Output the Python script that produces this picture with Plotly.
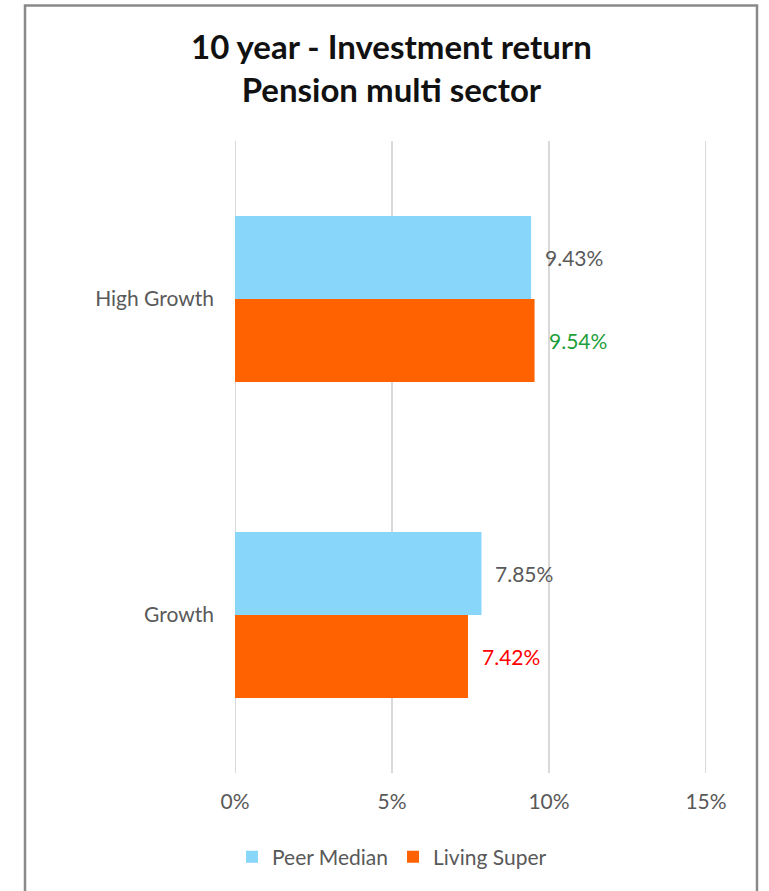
import plotly.graph_objects as go

categories = ["High Growth", "Growth"]
peer_median = [9.43, 7.85]
living_super = [9.54, 7.42]
living_label_colors = ["#1e9e3a", "#ff0000"]
x_ticks = [0, 5, 10, 15]
x_tick_labels = ["0%", "5%", "10%", "15%"]

PEER_COLOR = "#89d6fb"
LS_COLOR = "#ff6200"
TEXT_GRAY = "#595959"
FONT = "Lato"
FS = 21

fig = go.Figure()
fig.add_trace(go.Bar(
    y=categories, x=peer_median, orientation="h", name="Peer Median",
    marker=dict(color=PEER_COLOR, line=dict(width=0)), hoverinfo="x+name",
))
fig.add_trace(go.Bar(
    y=categories, x=living_super, orientation="h", name="Living Super",
    marker=dict(color=LS_COLOR, line=dict(width=0)), hoverinfo="x+name",
))

annotations = []
for cat, v in zip(categories, peer_median):
    annotations.append(dict(x=v, y=cat, xref="x", yref="y", text=f"{v:.2f}%",
                            showarrow=False, xanchor="left", yanchor="middle",
                            xshift=12, yshift=41.5,
                            font=dict(family=FONT, size=FS, color=TEXT_GRAY)))
for cat, v, c in zip(categories, living_super, living_label_colors):
    annotations.append(dict(x=v, y=cat, xref="x", yref="y", text=f"{v:.2f}%",
                            showarrow=False, xanchor="left", yanchor="middle",
                            xshift=12, yshift=-41.5,
                            font=dict(family=FONT, size=FS, color=c)))

# Title
annotations.append(dict(
    text="<b>10 year - Investment return<br>Pension multi sector</b>",
    xref="paper", yref="paper", x=(391 - 235) / 471, y=(773 - 67) / 632,
    xanchor="center", yanchor="middle", showarrow=False, align="center",
    font=dict(family=FONT, size=33, color="#111111"),
))

# vertical gridlines (drawn as shapes so the edge lines at 0% and 15% show)
shapes = []
for t in x_ticks:
    shapes.append(dict(type="line", xref="x", yref="paper", x0=t, x1=t, y0=0, y1=1,
                       line=dict(color="#d9d9d9", width=2), layer="below"))
shapes.append(dict(type="rect", xref="paper", yref="paper",
                   x0=(25 - 235) / 471, x1=(757 - 235) / 471,
                   y0=(773 - 905) / 632, y1=(773 - 5.5) / 632,
                   line=dict(color="#8a8a8a", width=2.5), fillcolor="rgba(0,0,0,0)",
                   layer="below"))

fig.update_layout(
    width=769, height=891,
    margin=dict(l=235, r=63, t=141, b=118),
    paper_bgcolor="white", plot_bgcolor="white",
    barmode="group", bargap=0.475, bargroupgap=0,
    font=dict(family=FONT, size=FS, color=TEXT_GRAY),
    showlegend=True,
    legend=dict(orientation="h", x=(392 - 235) / 471, xanchor="center",
                y=(773 - 857) / 632, yanchor="middle",
                font=dict(family=FONT, size=FS, color=TEXT_GRAY),
                itemwidth=30, tracegroupgap=0),
    xaxis=dict(range=[0, 15], tickvals=x_ticks, ticktext=x_tick_labels,
               showgrid=False, zeroline=False, showline=False, ticks="",
               ticklabelstandoff=14, fixedrange=True,
               tickfont=dict(family=FONT, size=FS, color=TEXT_GRAY)),
    yaxis=dict(categoryorder="array", categoryarray=categories,
               autorange="reversed", showgrid=False, zeroline=False,
               showline=False, ticks="", ticklabelstandoff=20,
               tickfont=dict(family=FONT, size=FS, color=TEXT_GRAY)),
    annotations=annotations,
    shapes=shapes,
)

fig.write_html("out.html")
